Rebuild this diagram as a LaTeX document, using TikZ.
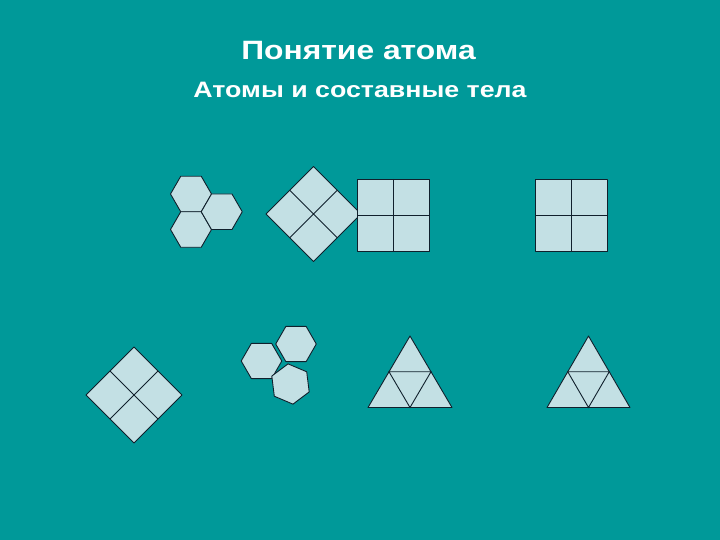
\documentclass[tikz,border=0pt]{standalone}
\usepackage{fontspec}
\setmainfont{Liberation Sans}
\definecolor{bgteal}{RGB}{0,153,153}
\definecolor{piecefill}{RGB}{195,224,228}
\definecolor{edgeclr}{RGB}{16,32,44}
\begin{document}
\begin{tikzpicture}[x=1pt,y=-1pt,
  piece/.style={fill=piecefill,draw=edgeclr,line width=0.9pt,line join=round},
  inner/.style={draw=edgeclr,line width=0.9pt},
  titletext/.style={text=white,anchor=base,inner sep=0pt}]
\fill[bgteal] (0,0) rectangle (720,540);
\useasboundingbox (0,0) rectangle (720,540);
% titles
\node[titletext] (t1) at (358.5,60) {\scalebox{1.2}[1]{\bfseries\fontsize{26.5}{30}\selectfont Понятие атома}};
\node[titletext] (t2) at (360,98) {\scalebox{1.2}[1]{\bfseries\fontsize{22.3}{26}\selectfont Атомы и составные тела}};
% hexagon cluster 1
\foreach \cx/\cy in {191/194, 191/229.5, 221.75/211.75}{
  \draw[piece] (\cx,\cy) +(0:20.5) -- +(60:20.5) -- +(120:20.5) -- +(180:20.5) -- +(240:20.5) -- +(300:20.5) -- cycle;
}
% diamond 1
\draw[piece] (266,214) -- (313.5,166.5) -- (361,214) -- (313.5,261.5) -- cycle;
\draw[inner] (289.75,190.25) -- (337.25,237.75) (337.25,190.25) -- (289.75,237.75);
% square 1
\draw[piece] (357,179) rectangle (429,251);
\draw[inner] (393,179) -- (393,251) (357,215) -- (429,215);
% square 2
\draw[piece] (535.5,179) rectangle (607.5,251);
\draw[inner] (571.5,179) -- (571.5,251) (535.5,215) -- (607.5,215);
% diamond 2
\draw[piece] (86,395) -- (134,347) -- (182,395) -- (134,443) -- cycle;
\draw[inner] (110,371) -- (158,419) (158,371) -- (110,419);
% hexagon cluster 2
\foreach \cx/\cy/\a in {261.5/361/0, 296/344/0, 290.5/384/23}{
  \draw[piece] (\cx,\cy) +(\a:20.3) -- +(\a+60:20.3) -- +(\a+120:20.3) -- +(\a+180:20.3) -- +(\a+240:20.3) -- +(\a+300:20.3) -- cycle;
}
% triangle 1
\draw[piece] (410,336) -- (452,407.5) -- (368,407.5) -- cycle;
\draw[inner] (389,371.75) -- (431,371.75) -- (410,407.5) -- cycle;
% triangle 2
\draw[piece] (588.5,336) -- (630,407.5) -- (547,407.5) -- cycle;
\draw[inner] (567.75,371.75) -- (609.25,371.75) -- (588.5,407.5) -- cycle;
\end{tikzpicture}
\end{document}
